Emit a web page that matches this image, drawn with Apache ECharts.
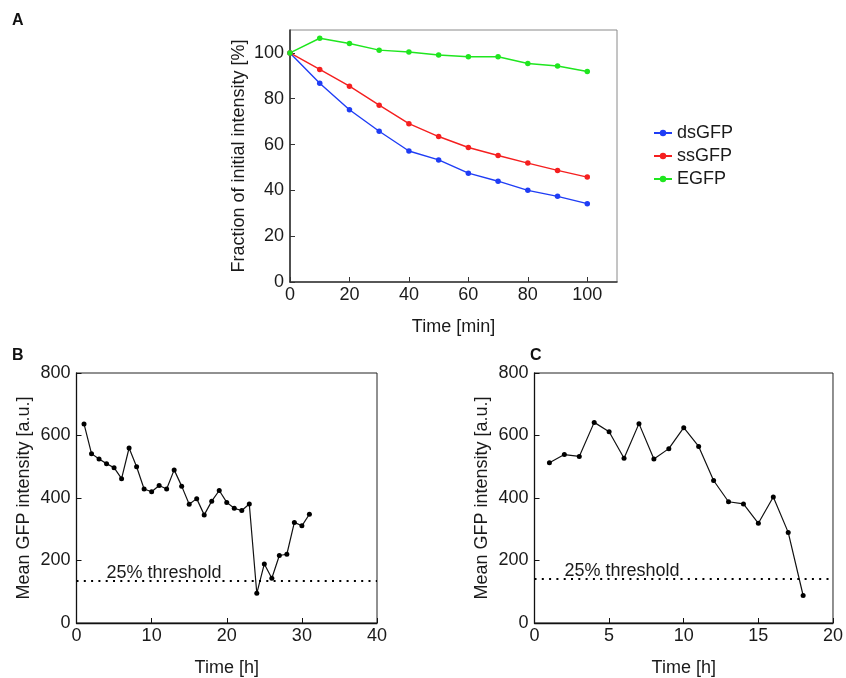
<!DOCTYPE html>
<html>
<head>
<meta charset="utf-8">
<script src="https://cdn.jsdelivr.net/npm/echarts@6/dist/echarts.min.js"></script>
<style>
html,body{margin:0;padding:0;background:#fff;}
#chart{width:846px;height:678px;}
</style>
</head>
<body>
<div id="chart"></div>
<script>
// ---- Panel A data ----
const aTime = [0, 10, 20, 30, 40, 50, 60, 70, 80, 90, 100];
const dsGFP = [100, 86.8, 75.2, 65.8, 57.2, 53.3, 47.5, 44.0, 40.0, 37.4, 34.2];
const ssGFP = [100, 92.8, 85.5, 77.2, 69.1, 63.5, 58.7, 55.2, 51.9, 48.7, 45.8];
const EGFP  = [100, 106.4, 104.1, 101.2, 100.4, 99.1, 98.3, 98.3, 95.4, 94.3, 91.9];
const aSeriesNames = ['dsGFP', 'ssGFP', 'EGFP'];

// ---- Panel B data ----
const bHours = [1,2,3,4,5,6,7,8,9,10,11,12,13,14,15,16,17,18,19,20,21,22,23,24,25,26,27,28,29,30,31];
const bValues = [637,542,525,510,497,462,560,500,429,420,440,429,490,438,380,398,346,390,424,386,367,360,381,95,189,143,216,220,322,311,348];
const bThreshold = 134;

// ---- Panel C data ----
const cHours = [1,2,3,4,5,6,7,8,9,10,11,12,13,14,15,16,17,18];
const cValues = [513,539,533,642,612,527,638,525,558,625,565,456,388,381,319,403,290,88];
const cThreshold = 142;

const thresholdLabel = '25% threshold';
const panelLabels = ['A', 'B', 'C'];

const FONT = 'Liberation Sans, Arial, Helvetica, sans-serif';
const TXT = '#1a1a1a';

function pairs(xs, ys) { return xs.map((x, i) => [x, ys[i]]); }

function xAx(gridIndex, min, max, interval, name, color, lw) {
  return {
    type: 'value', gridIndex, min, max, interval,
    name, nameLocation: 'middle', nameGap: 36,
    nameTextStyle: { fontFamily: FONT, fontSize: 18, color: TXT },
    axisLine: { show: true, lineStyle: { color, width: lw } },
    axisTick: { show: true, inside: true, length: 5, lineStyle: { color, width: 1 } },
    axisLabel: { fontFamily: FONT, fontSize: 18, color: TXT, margin: 4, showMaxLabel: max % interval === 0 },
    splitLine: { show: false }
  };
}
function yAx(gridIndex, min, max, interval, name, color, lw, gap) {
  return {
    type: 'value', gridIndex, min, max, interval,
    name, nameLocation: 'middle', nameGap: gap,
    nameTextStyle: { fontFamily: FONT, fontSize: 18, color: TXT },
    axisLine: { show: true, lineStyle: { color, width: lw } },
    axisTick: { show: true, inside: true, length: 5, lineStyle: { color, width: 1 } },
    axisLabel: { fontFamily: FONT, fontSize: 18, color: TXT, margin: 6, showMaxLabel: max % interval === 0 },
    splitLine: { show: false }
  };
}

const colors = ['#1f3df5', '#f51f1f', '#1fe61f'];
const aVals = [dsGFP, ssGFP, EGFP];

function thresholdLine(value) {
  return {
    silent: true,
    symbol: 'none',
    lineStyle: { color: '#000', type: [2, 5.3], width: 2 },
    label: {
      show: true, position: 'insideStartTop', formatter: thresholdLabel,
      fontFamily: FONT, fontSize: 18, color: TXT, distance: [30, -1]
    },
    emphasis: { disabled: true },
    data: [{ yAxis: value }]
  };
}

const option = {
  animation: false,
  backgroundColor: '#fff',
  textStyle: { fontFamily: FONT },
  graphic: [
    { type: 'text', left: 12, top: 13, style: { text: panelLabels[0], font: 'bold 16px ' + FONT, fill: '#111' } },
    { type: 'text', left: 12, top: 348, style: { text: panelLabels[1], font: 'bold 16px ' + FONT, fill: '#111' } },
    { type: 'text', left: 530, top: 348, style: { text: panelLabels[2], font: 'bold 16px ' + FONT, fill: '#111' } }
  ],
  grid: [
    { left: 290, top: 30, width: 327, height: 252, show: true, borderColor: '#8a8a8a', borderWidth: 1 },
    { left: 76.5, top: 373, width: 300.5, height: 252, show: true, borderColor: '#222', borderWidth: 1 },
    { left: 534.5, top: 373, width: 300.5, height: 252, show: true, borderColor: '#222', borderWidth: 1 }
  ],
  legend: {
    data: aSeriesNames,
    orient: 'vertical', left: 653, top: 124,
    itemWidth: 18, itemHeight: 8, itemGap: 5, padding: 0,
    textStyle: { fontFamily: FONT, fontSize: 18, color: TXT }
  },
  xAxis: [
    xAx(0, 0, 110, 20, 'Time [min]', '#333', 1.6),
    xAx(1, 0, 40, 10, 'Time [h]', '#111', 1.3),
    xAx(2, 0, 20, 5, 'Time [h]', '#111', 1.3)
  ],
  yAxis: [
    yAx(0, 0, 110, 20, 'Fraction of initial intensity [%]', '#333', 1.6, 42),
    yAx(1, 0, 800, 200, 'Mean GFP intensity [a.u.]', '#111', 1.3, 43),
    yAx(2, 0, 800, 200, 'Mean GFP intensity [a.u.]', '#111', 1.3, 43)
  ],
  series: [
    ...aSeriesNames.map((n, i) => ({
      name: n, type: 'line', xAxisIndex: 0, yAxisIndex: 0,
      data: pairs(aTime, aVals[i]),
      symbol: 'circle', symbolSize: 5.5,
      lineStyle: { color: colors[i], width: 1.4 },
      itemStyle: { color: colors[i] },
      emphasis: { disabled: true }
    })),
    {
      name: 'B', type: 'line', xAxisIndex: 1, yAxisIndex: 1,
      data: pairs(bHours, bValues),
      symbol: 'circle', symbolSize: 5,
      lineStyle: { color: '#111', width: 1.2 },
      itemStyle: { color: '#000' },
      emphasis: { disabled: true },
      markLine: thresholdLine(bThreshold)
    },
    {
      name: 'C', type: 'line', xAxisIndex: 2, yAxisIndex: 2,
      data: pairs(cHours, cValues),
      symbol: 'circle', symbolSize: 5,
      lineStyle: { color: '#111', width: 1.2 },
      itemStyle: { color: '#000' },
      emphasis: { disabled: true },
      markLine: thresholdLine(cThreshold)
    }
  ]
};

const chart = echarts.init(document.getElementById('chart'), null, { renderer: 'canvas' });
chart.setOption(option);
</script>
</body>
</html>
